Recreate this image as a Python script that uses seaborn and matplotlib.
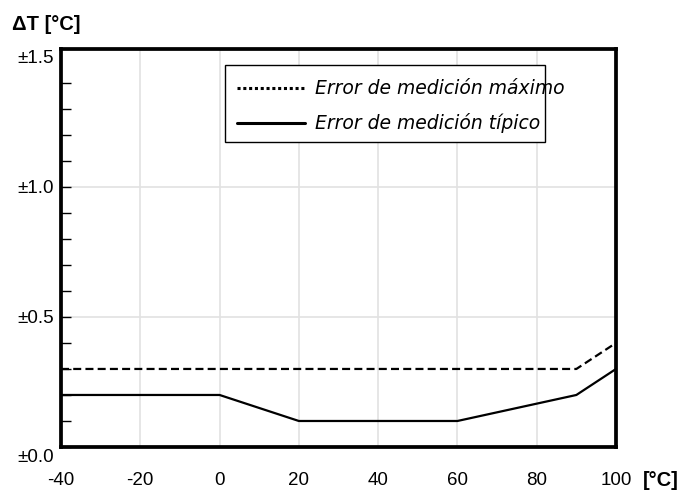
import matplotlib
matplotlib.use("Agg")
import matplotlib.pyplot as plt
from matplotlib.lines import Line2D
from matplotlib.patches import Rectangle
from matplotlib.ticker import MultipleLocator
from matplotlib.transforms import ScaledTranslation
import pandas as pd
import seaborn as sns

# Temperature points (°C) and measurement error (±°C)
temp_max = [-40, 0, 20, 60, 90, 100]
err_max = [0.3, 0.3, 0.3, 0.3, 0.3, 0.4]
temp_typ = [-40, 0, 20, 60, 90, 100]
err_typ = [0.2, 0.2, 0.1, 0.1, 0.2, 0.3]

label_max = "Error de medición máximo"
label_typ = "Error de medición típico"
x_ticks = [-40, -20, 0, 20, 40, 60, 80, 100]
y_ticks = [0.0, 0.5, 1.0, 1.5]
y_tick_labels = ["±0.0", "±0.5", "±1.0", "±1.5"]

sns.set_style("white")
plt.rcParams["font.family"] = ["Liberation Sans", "DejaVu Sans"]
plt.rcParams["text.color"] = "black"

df = pd.concat([
    pd.DataFrame({"T": temp_max, "err": err_max, "serie": label_max}),
    pd.DataFrame({"T": temp_typ, "err": err_typ, "serie": label_typ}),
])

fig = plt.figure(figsize=(6.88, 4.92), dpi=100)
ax = fig.add_axes([61 / 688, 45 / 492, 555 / 688, 398 / 492])

sns.lineplot(data=df[df.serie == label_max], x="T", y="err", ax=ax,
             color="black", lw=1.6, legend=False)
ax.lines[-1].set_dashes([3.6, 1.9])
sns.lineplot(data=df[df.serie == label_typ], x="T", y="err", ax=ax,
             color="black", lw=1.6, legend=False)

ax.set_xlim(-40, 100)
ax.set_ylim(0, 1.53)
ax.set_xticks(x_ticks)
ax.set_xticklabels([str(v) for v in x_ticks])
ax.set_yticks(y_ticks)
ax.set_yticklabels(y_tick_labels)
ax.yaxis.set_minor_locator(MultipleLocator(0.1))

ax.grid(True, which="major", color="#e2e2e2", lw=1.2)
ax.set_axisbelow(True)
for s in ax.spines.values():
    s.set_visible(True)
    s.set_color("black")
    s.set_linewidth(2.7)

ax.tick_params(axis="x", bottom=True, length=0, pad=18, labelsize=13.5, colors="black")
ax.tick_params(axis="y", which="both", left=True, direction="in", length=7.5,
               width=1.0, pad=5, labelsize=13.5, colors="black")
ax.set_xlabel("")
ax.set_ylabel("")

# no gridline or tick mark at the top value
ax.yaxis.get_gridlines()[-1].set_visible(False)
ax.yaxis.get_major_ticks()[-1].tick1line.set_visible(False)
for t in ax.yaxis.get_minor_ticks():
    if abs(t.get_loc() - 1.5) < 1e-6:
        t.tick1line.set_visible(False)

# nudge the bottom y label below the x axis line
lbl0 = ax.get_yticklabels()[0]
lbl0.set_transform(lbl0.get_transform() + ScaledTranslation(0, -6 / 72, fig.dpi_scale_trans))

fig.text(12 / 688, 1 - 24 / 492, "ΔT [°C]", fontsize=14.5, fontweight="bold",
         va="center", ha="left", color="black")
fig.text(643 / 688, 1 - 480 / 492, "[°C]", fontsize=14.5, fontweight="bold",
         va="center", ha="left", color="black")

# Legend box
ax.add_patch(Rectangle((0.295, 0.766), 0.577, 0.194, transform=ax.transAxes,
                       fill=True, facecolor="white", edgecolor="black", lw=1.0, zorder=5))
ax.add_line(Line2D([0.317, 0.44], [0.902, 0.902], transform=ax.transAxes,
                   color="black", lw=2.2, ls=(0, (1.0, 0.9)), zorder=6))
ax.add_line(Line2D([0.317, 0.44], [0.814, 0.814], transform=ax.transAxes,
                   color="black", lw=2.2, zorder=6))
ax.text(0.458, 0.902, label_max, transform=ax.transAxes, fontsize=13.5,
        family=["DejaVu Sans"], style="italic", va="center", ha="left",
        color="black", zorder=6)
ax.text(0.458, 0.814, label_typ, transform=ax.transAxes, fontsize=13.5,
        family=["DejaVu Sans"], style="italic", va="center", ha="left",
        color="black", zorder=6)

fig.savefig("out.png", dpi=100)
